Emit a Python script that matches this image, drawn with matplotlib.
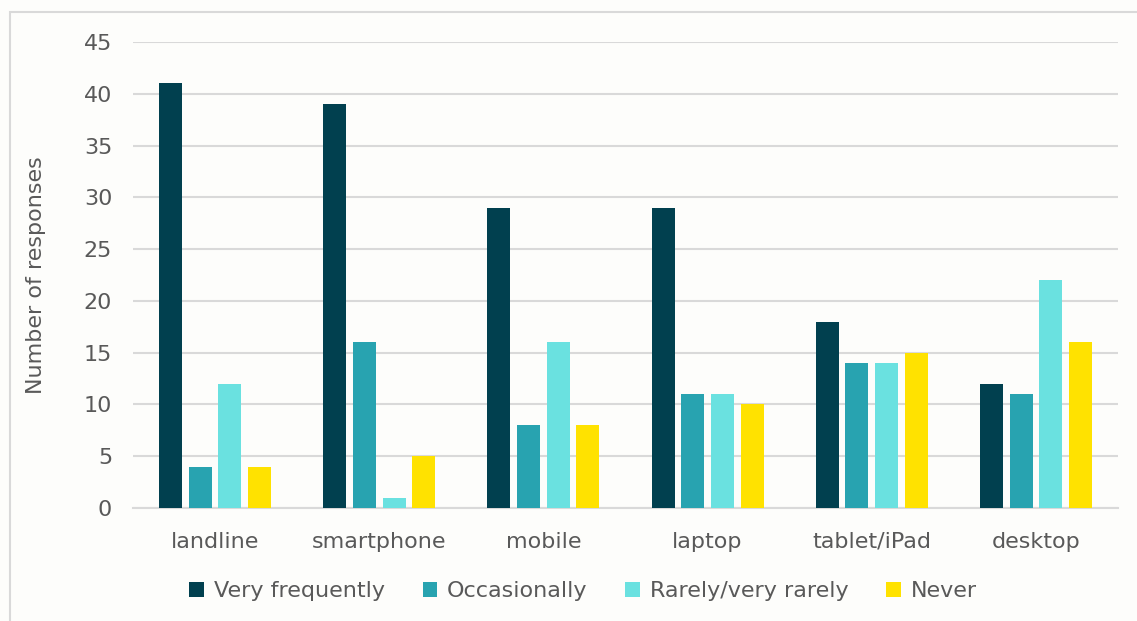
import numpy as np
import matplotlib.pyplot as plt
from matplotlib.patches import Rectangle

categories = ['landline', 'smartphone', 'mobile', 'laptop', 'tablet/iPad', 'desktop']
series = ['Very frequently', 'Occasionally', 'Rarely/very rarely', 'Never']
very_frequently = [41, 39, 29, 29, 18, 12]
occasionally = [4, 16, 8, 11, 14, 11]
rarely = [12, 1, 16, 11, 14, 22]
never = [4, 5, 8, 10, 15, 16]
colors = ['#01404F', '#28A3B0', '#6AE1E0', '#FFE200']

text_col = '#595959'
plt.rcParams['font.family'] = ['DejaVu Sans']

fig = plt.figure(figsize=(11.37, 6.21), dpi=100)
fig.patch.set_facecolor('#FDFDFB')
fig.patches.append(Rectangle((10 / 1137, -0.1), 1.2, 1.1 - 12 / 621,
                             transform=fig.transFigure, fill=False,
                             edgecolor='#D9D9D9', linewidth=1.5))

ax = fig.add_axes([133 / 1137, 1 - 508 / 621, 985 / 1137, 466 / 621])
ax.set_facecolor('none')

x = np.arange(len(categories))
step = 0.181
width = 0.14
values = [very_frequently, occasionally, rarely, never]
for i, (name, vals) in enumerate(zip(series, values)):
    ax.bar(x + (i - 1.5) * step, vals, width, color=colors[i], label=name,
           zorder=3)

ax.set_xlim(-0.5, len(categories) - 0.5)
ax.set_ylim(0, 45)
ax.set_yticks(range(0, 46, 5))
ax.set_xticks(x)
ax.set_xticklabels(categories)
ax.grid(axis='y', color='#D9D9D9', linewidth=1.5, zorder=0)
ax.tick_params(axis='both', length=0, labelsize=16, labelcolor=text_col)
ax.tick_params(axis='x', pad=17)
ax.tick_params(axis='y', pad=15)
for side in ['top', 'right', 'left']:
    ax.spines[side].set_visible(False)
ax.spines['bottom'].set_color('#D9D9D9')
ax.spines['bottom'].set_linewidth(1.5)
ax.set_ylabel('Number of responses', fontsize=16, color=text_col, labelpad=27)

fig.legend(*ax.get_legend_handles_labels(), loc='center',
           bbox_to_anchor=(583 / 1137, 1 - 591 / 621), ncol=4, frameon=False,
           fontsize=16, labelcolor=text_col, handlelength=0.65, handleheight=0.65,
           handletextpad=0.45, columnspacing=1.7)

fig.savefig('out.png', dpi=100, facecolor=fig.get_facecolor())
